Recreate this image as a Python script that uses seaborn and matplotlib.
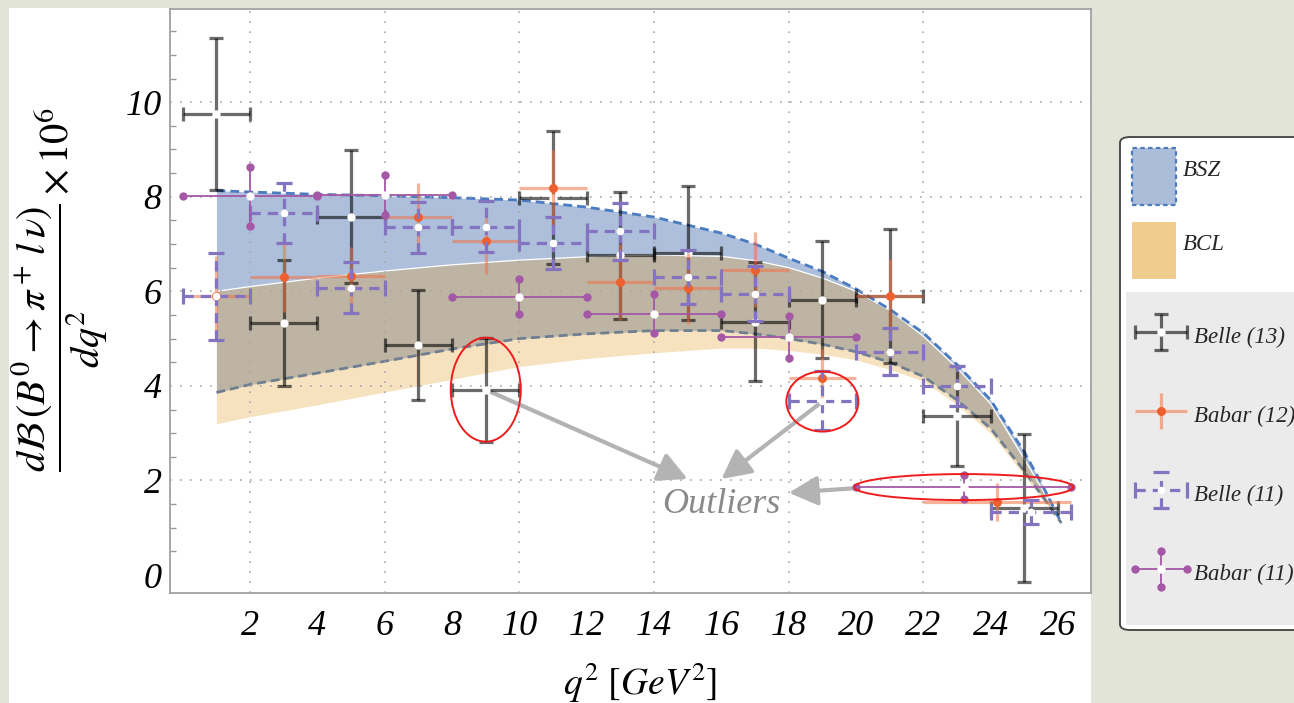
import numpy as np
import matplotlib
matplotlib.use("Agg")
import matplotlib.pyplot as plt
import seaborn as sns
import pandas as pd
from matplotlib.patches import Ellipse, Rectangle, FancyBboxPatch, Patch
from matplotlib.legend_handler import HandlerErrorbar, HandlerPatch
from matplotlib.lines import Line2D
from matplotlib.ticker import MultipleLocator

# ---------------- data ----------------
belle13_q2 = [1, 3, 5, 7, 9, 11, 13, 15, 17, 19, 21, 23, 25]
belle13_dq = [1, 1, 1, 1, 1, 1, 1, 1, 1, 1, 1, 1, 1]
belle13_y = [9.75, 5.33, 7.58, 4.87, 3.92, 7.98, 6.76, 6.81, 5.36, 5.82, 5.90, 3.37, 1.42]
belle13_err = [1.60, 1.33, 1.40, 1.16, 1.10, 1.40, 1.35, 1.42, 1.25, 1.24, 1.41, 1.06, 1.56]

babar12_q2 = [1, 3, 5, 7, 9, 11, 13, 15, 17, 19, 21, 24.2]
babar12_dq = [1, 1, 1, 1, 1, 1, 1, 1, 1, 1, 1, 2.2]
babar12_y = [5.90, 6.31, 6.33, 7.58, 7.07, 8.18, 6.20, 6.06, 6.46, 4.17, 5.90, 1.55]
babar12_err = [0.85, 0.74, 0.60, 0.70, 0.70, 0.80, 0.80, 0.75, 0.80, 0.60, 0.78, 0.40]

belle11_q2 = [1, 3, 5, 7, 9, 11, 13, 15, 17, 19, 21, 23, 25.2]
belle11_dq = [1, 1, 1, 1, 1, 1, 1, 1, 1, 1, 1, 1, 1.2]
belle11_y = [5.90, 7.65, 6.08, 7.35, 7.37, 7.03, 7.27, 6.31, 5.95, 3.69, 4.72, 4.00, 1.33]
belle11_err = [0.92, 0.63, 0.53, 0.53, 0.53, 0.55, 0.60, 0.57, 0.58, 0.62, 0.50, 0.42, 0.25]

babar11_q2 = [2, 6, 10, 14, 18, 23.2]
babar11_dq = [2, 2, 2, 2, 2, 3.2]
babar11_y = [8.01, 8.03, 5.89, 5.53, 5.04, 1.86]
babar11_err = [0.62, 0.42, 0.37, 0.42, 0.44, 0.26]

band_q2 = [1, 2, 4, 6, 8, 10, 12, 14, 16, 17, 18, 19, 20, 21, 22, 23, 24, 25, 25.5, 26.1]
bsz_hi = [8.13, 8.10, 8.05, 8.02, 7.98, 7.93, 7.78, 7.57, 7.23, 7.00, 6.70, 6.42, 6.05, 5.62, 5.12, 4.45, 3.70, 2.60, 1.95, 1.10]
bsz_lo = [3.86, 4.03, 4.27, 4.52, 4.78, 5.00, 5.10, 5.17, 5.17, 5.10, 5.00, 4.88, 4.72, 4.50, 4.20, 3.70, 3.10, 2.20, 1.70, 1.10]
bcl_hi = [6.00, 6.10, 6.28, 6.43, 6.56, 6.66, 6.73, 6.77, 6.74, 6.65, 6.50, 6.28, 6.00, 5.60, 5.05, 4.38, 3.62, 2.45, 1.85, 1.10]
bcl_lo = [3.20, 3.35, 3.60, 3.87, 4.14, 4.41, 4.58, 4.70, 4.80, 4.80, 4.75, 4.67, 4.55, 4.35, 4.10, 3.60, 3.00, 2.10, 1.65, 1.10]

# outlier highlights: (center x, center y, width, height)
outliers = [(9.0, 3.92, 2.08, 2.2), (19.0, 3.67, 2.14, 1.27), (23.2, 1.86, 6.5, 0.55)]
arrows = [((9.0, 3.92), (15.0, 2.03)), ((19.0, 3.67), (16.0, 2.03)), ((20.05, 1.84), (18.0, 1.74))]

# ---------------- style ----------------
sns.set_theme(style="white")
plt.rcParams["font.family"] = ["Liberation Serif", "DejaVu Serif"]
plt.rcParams["font.style"] = "normal"
plt.rcParams["mathtext.fontset"] = "stix"

W, H = 1294, 703
fig = plt.figure(figsize=(W / 100, H / 100), dpi=100, facecolor="#E3E4D8")
fig.add_artist(Rectangle((9 / W, 0), (1091 - 9) / W, 1 - 8 / H, transform=fig.transFigure,
                         facecolor="white", edgecolor="none", zorder=-1))
ax = fig.add_axes([170 / W, 1 - 593 / H, (1091 - 170) / W, (593 - 9) / H])
ax.set_facecolor("white")

# ---------------- bands ----------------
q = np.array(band_q2)
bh, bl, ch, cl = map(np.array, (bsz_hi, bsz_lo, bcl_hi, bcl_lo))
ax.fill_between(q, cl, ch, color="#F7E2C0", lw=0, zorder=1)
ax.fill_between(q, bl, bh, color="#ADBFDA", lw=0, zorder=1.1)
ax.fill_between(q, np.maximum(bl, cl), np.minimum(bh, ch), color="#BDB4A3", lw=0, zorder=1.2)
sns.lineplot(x=band_q2, y=bcl_hi, ax=ax, color="white", lw=0.9, sort=False, zorder=1.3)
sns.lineplot(x=band_q2, y=bsz_hi, ax=ax, color="#4B7BC0", lw=2.0, sort=False, zorder=1.4,
             dashes=False, linestyle=(0, (3.2, 1.8)))
sns.lineplot(x=band_q2, y=bsz_lo, ax=ax, color="#6F7F90", lw=2.0, sort=False, zorder=1.4,
             dashes=False, linestyle=(0, (3.2, 1.8)))

# ---------------- grid ----------------
for gy in [2, 4, 6, 8, 10]:
    ax.axhline(gy, color="#A8A8A8", lw=1.2, linestyle=(0, (1, 5)), zorder=1.5)
for gx in [2, 6, 10, 14, 18, 22]:
    ax.axvline(gx, color="#A8A8A8", lw=1.2, linestyle=(0, (1, 5)), zorder=1.5)

# ---------------- data points ----------------
eb1 = ax.errorbar(belle13_q2, belle13_y, xerr=belle13_dq, yerr=belle13_err, fmt="o",
                  mfc="white", mec="none", ms=6, ecolor=(0, 0, 0, 0.58), elinewidth=2.3,
                  capsize=5, capthick=2.3, zorder=2, label="Belle (13)")
eb2 = ax.errorbar(babar12_q2, babar12_y, xerr=babar12_dq, yerr=babar12_err, fmt="o",
                  mfc="#EE6030", mec="none", ms=6.5, ecolor=(0.95, 0.45, 0.28, 0.55), elinewidth=2.3,
                  capsize=0, zorder=2.1, label="Babar (12)")
eb3 = ax.errorbar(belle11_q2, belle11_y, xerr=belle11_dq, yerr=belle11_err, fmt="o",
                  mfc="white", mec="none", ms=5.5, ecolor="#8373C0", elinewidth=2.3,
                  capsize=6, capthick=2.3, zorder=2.2, label="Belle (11)")
eb3[2][0].set_linestyle((0, (3.2, 2.2)))
eb3[2][1].set_linestyle((0, (3.2, 2.2)))
eb4 = ax.errorbar(babar11_q2, babar11_y, xerr=babar11_dq, yerr=babar11_err, fmt="o",
                  mfc="white", mec="none", ms=6, ecolor="#A458A6", elinewidth=1.3,
                  capsize=3, capthick=0, zorder=2.3, label="Babar (11)")
for c in eb4[1]:
    c.set_marker("o")
    c.set_markersize(6)
    c.set_markeredgewidth(0)
    c.set_markerfacecolor("#A458A6")

# ---------------- outliers ----------------
for (cx, cy, ew, eh) in outliers:
    ax.add_patch(Ellipse((cx, cy), ew, eh, fill=False, ec="#EE1C1C", lw=1.4, zorder=2.5))
for tail, tip in arrows:
    ax.annotate("", xy=tip, xytext=tail,
                arrowprops=dict(arrowstyle="-|>,head_length=0.55,head_width=0.28",
                                color="#B3B3B3", lw=3, mutation_scale=32,
                                shrinkA=0, shrinkB=0), zorder=1.9)
ax.text(16.0, 1.5, "Outliers", color="#8A8A8A", fontsize=26, ha="center", va="center",
        style="italic", zorder=3)

# ---------------- axes ----------------
ax.set_xlim(-0.38, 26.98)
ax.set_ylim(-0.38, 11.97)
ax.set_xticks([2, 4, 6, 8, 10, 12, 14, 16, 18, 20, 22, 24, 26])
ax.set_yticks([0, 2, 4, 6, 8, 10])
ax.yaxis.set_minor_locator(MultipleLocator(0.5))
ax.tick_params(axis="both", which="major", direction="in", length=7, width=1.1,
               color="#9A9A9A", labelsize=26, labelcolor="black")
ax.tick_params(axis="y", which="minor", direction="in", length=4, width=1.0, color="#9A9A9A", left=True)
ax.tick_params(axis="x", which="major", pad=12)
ax.tick_params(axis="y", which="major", pad=6)
for lab in ax.get_xticklabels() + ax.get_yticklabels():
    lab.set_fontstyle("italic")
for s in ax.spines.values():
    s.set_color("#A0A0A0")
    s.set_linewidth(1.3)

ax.set_ylabel(r"$\dfrac{d\mathcal{B}\,\left(B^0\rightarrow\pi^+\,l\,\nu\right)}{dq^2}\times 10^6$",
              fontsize=29, color="black")
ax.yaxis.set_label_coords(-0.065, 0.52)
ax.set_xlabel(r"$q^2\ [GeV^2]$", fontsize=27, color="black")
ax.xaxis.set_label_coords(0.51, -0.115)

# ---------------- legend ----------------
class DotCapHandler(HandlerErrorbar):
    def create_artists(self, legend, orig_handle, xdescent, ydescent, width, height, fontsize, trans):
        arts = super().create_artists(legend, orig_handle, xdescent, ydescent, width, height, fontsize, trans)
        for a in arts:
            if isinstance(a, Line2D) and a.get_marker() in ("|", "_"):
                a.set_marker("o")
                a.set_markersize(6)
                a.set_markeredgewidth(0)
                a.set_markerfacecolor("#A458A6")
        return arts


def full_rect(legend, orig_handle, xdescent, ydescent, width, height, fontsize):
    hgt = fontsize * 2.49
    return Rectangle((-xdescent, height - ydescent - hgt), width, hgt)


fig.add_artist(FancyBboxPatch((1120 / W, 1 - 630 / H), (1310 - 1120) / W, (630 - 137) / H,
                              boxstyle="round,pad=0,rounding_size=0.008", transform=fig.transFigure,
                              facecolor="white", edgecolor="#404040", lw=1.3, zorder=1))
fig.add_artist(Rectangle((1126 / W, 1 - 625 / H), (1310 - 1126) / W, (625 - 292) / H,
                         transform=fig.transFigure, facecolor="#EBEBEB", edgecolor="none", zorder=1.5))

lfs = 16.5
lprop = {"size": lfs, "style": "italic"}
band_handles = [Patch(facecolor="#ABBDD9", edgecolor="#4B7BC0", linestyle=(0, (2, 1.5)), lw=1.6, label="BSZ"),
                Patch(facecolor="#F0CC8E", edgecolor="none", label="BCL")]
hpatch = HandlerPatch(patch_func=full_rect)
leg1 = fig.legend(handles=band_handles, loc="upper left", bbox_to_anchor=(1132 / W, 1 - 148 / H),
                  frameon=False, prop=lprop, handlelength=1.92, handleheight=2.49,
                  labelspacing=1.36, handletextpad=0.3, borderpad=0, borderaxespad=0,
                  handler_map={Patch: hpatch})
herr = HandlerErrorbar(xerr_size=1.13, yerr_size=0.8)
leg2 = fig.legend(handles=[eb1, eb2, eb3, eb4], labels=["Belle (13)", "Babar (12)", "Belle (11)", "Babar (11)"],
                  loc="upper left", bbox_to_anchor=(1135 / W, 1 - 321 / H),
                  frameon=False, prop=lprop, handlelength=2.27, handleheight=1.57,
                  labelspacing=2.18, handletextpad=0.3, borderpad=0, borderaxespad=0,
                  handler_map={eb1: herr, eb2: herr, eb3: herr,
                               eb4: DotCapHandler(xerr_size=1.13, yerr_size=0.8)})

fig.savefig("out.png", dpi=100, facecolor=fig.get_facecolor())
